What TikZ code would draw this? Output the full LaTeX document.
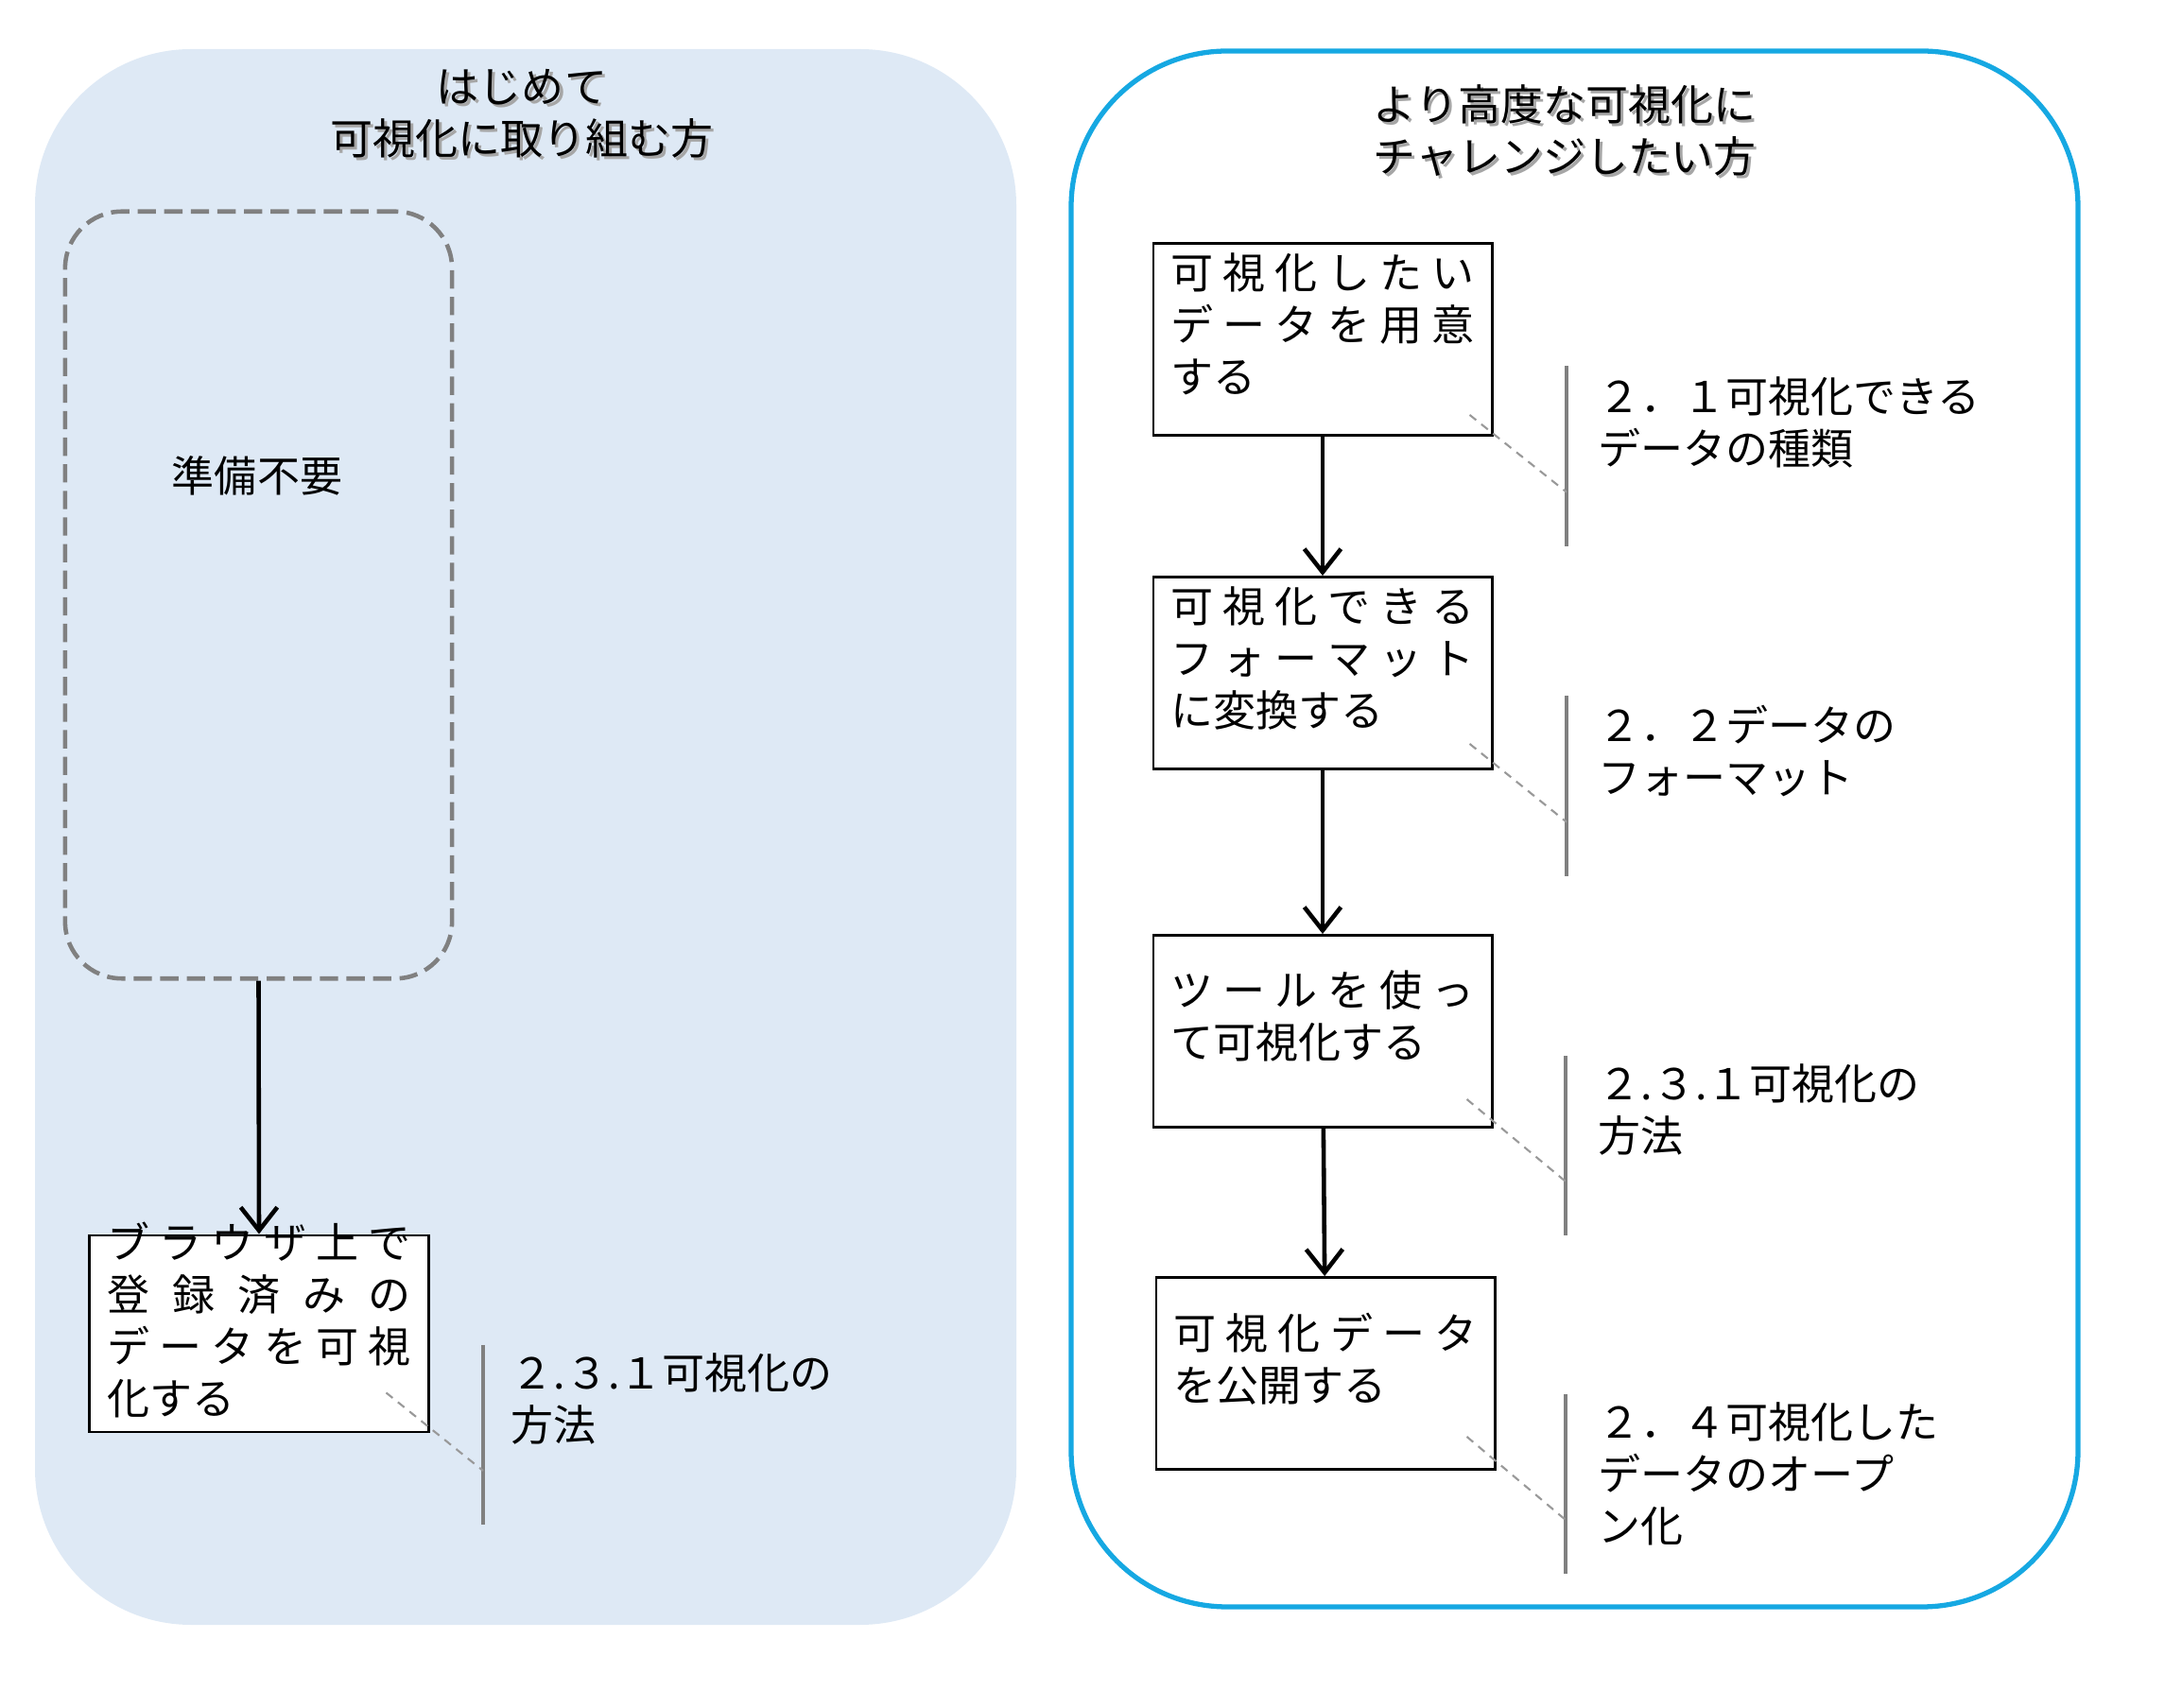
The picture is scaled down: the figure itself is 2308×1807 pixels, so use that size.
\documentclass[tikz,border=0pt]{standalone}
\usepackage{fontspec}
\setmainfont{Noto Sans CJK JP}
\usetikzlibrary{arrows.meta,calc}

\definecolor{paleblue}{RGB}{222,233,245}
\definecolor{skyline}{RGB}{22,168,226}
\definecolor{midgray}{RGB}{128,128,128}

\newlength{\boxtw}
\setlength{\boxtw}{3.21cm}
% spread one line of a box over the full text width
\ExplSyntaxOn
\NewDocumentCommand \spreadline { m }
  { \makebox [ \boxtw ] [ s ] { \tl_map_inline:nn { #1 } { ##1 \hfil } \unskip } }
\ExplSyntaxOff

\tikzset{
  jp/.style={font=\fontsize{12.8pt}{15.65pt}\selectfont},
  ttl/.style={jp, align=center, inner sep=0pt},
  stepbox/.style={jp, draw=black, line width=0.8pt, fill=white, minimum width=3.58cm, minimum height=2.03cm, align=left, inner sep=0pt, text depth=10pt},
  dashbox/.style={draw=midgray, line width=1.3pt, dash pattern=on 5.5pt off 2.5pt, rounded corners=0.6cm, minimum width=4.09cm, minimum height=8.11cm},
  flow/.style={->, line width=1.3pt},
  bar/.style={draw=midgray, line width=1.2pt},
  leader/.style={draw=black!40, line width=0.6pt, dash pattern=on 2.5pt off 2pt},
  note/.style={jp, align=left, inner sep=0pt, anchor=north west}
}

\begin{document}
\begin{tikzpicture}[x=0.01cm, y=-0.01cm, >={Straight Barb[length=7pt,width=11pt]}]
\useasboundingbox (0,0) rectangle (2308,1807);

% left panel
\fill[paleblue, rounded corners=1.65cm] (37,52) rectangle (1075,1719);
\node[ttl, text=black!35] (ltitles) at (555,123) {はじめて\\可視化に取り組む方};
\node[ttl] (ltitle) at (552,120) {はじめて\\可視化に取り組む方};

\node[dashbox] (prep) at (273.5,629.5) {};
\node[jp] (preptext) at (272,503) {準備不要};

\node[stepbox, minimum height=2.08cm, text height=53pt, text depth=4.4pt] (web) at (274,1411) {\spreadline{ブラウザ上で}\\\spreadline{登録済みの}\\\spreadline{データを可視}\\化する};
\path [flow] (prep.south) edge (web.north);

\coordinate (n0t) at (511,1423);
\coordinate (n0b) at (511,1613);
\draw[bar] (n0t) -- (n0b);
\draw[leader] ([shift={(-46,-43)}]web.south east) -- ($(n0t)!0.7!(n0b)$);
\node[note] (n0) at (540,1431) {２.３.１可視化の\\方法};

% right panel
\draw[skyline, line width=1.5pt, rounded corners=1.65cm] (1133,54) rectangle (2198,1700);
\node[ttl, text=black!35] (rtitles) at (1658,141) {より高度な可視化に\\チャレンジしたい方};
\node[ttl] (rtitle) at (1655,138) {より高度な可視化に\\チャレンジしたい方};

\node[stepbox] (s1) at (1399,359) {\spreadline{可視化したい}\\\spreadline{データを用意}\\する};
\node[stepbox] (s2) at (1399,712) {\spreadline{可視化できる}\\\spreadline{フォーマット}\\に変換する};
\node[stepbox] (s3) at (1399,1091) {\spreadline{ツールを使っ}\\て可視化する};
\node[stepbox] (s4) at (1402,1453) {\spreadline{可視化データ}\\を公開する};

\path [flow] (s1) edge (s2);
\path [flow] (s2) edge (s3);
\path [flow] (s3) edge (s4);

% notes
\coordinate (n1t) at (1657,387);
\coordinate (n1b) at (1657,578);
\draw[bar] (n1t) -- (n1b);
\draw[leader] ([shift={(-25,-23)}]s1.south east) -- ($(n1t)!0.7!(n1b)$);
\node[note] (n1) at (1690,398) {２．１可視化できる\\データの種類};

\coordinate (n2t) at (1657,736);
\coordinate (n2b) at (1657,927);
\draw[bar] (n2t) -- (n2b);
\draw[leader] ([shift={(-25,-28)}]s2.south east) -- ($(n2t)!0.7!(n2b)$);
\node[note] (n2) at (1690,745) {２．２データの\\フォーマット};

\coordinate (n3t) at (1656,1117);
\coordinate (n3b) at (1656,1307);
\draw[bar] (n3t) -- (n3b);
\draw[leader] ([shift={(-28,-31)}]s3.south east) -- ($(n3t)!0.7!(n3b)$);
\node[note] (n3) at (1690,1125) {２.３.１可視化の\\方法};

\coordinate (n4t) at (1656,1475);
\coordinate (n4b) at (1656,1665);
\draw[bar] (n4t) -- (n4b);
\draw[leader] ([shift={(-31,-36)}]s4.south east) -- ($(n4t)!0.7!(n4b)$);
\node[note] (n4) at (1690,1483) {２．４可視化した\\データのオープ\\ン化};
\end{tikzpicture}
\end{document}
